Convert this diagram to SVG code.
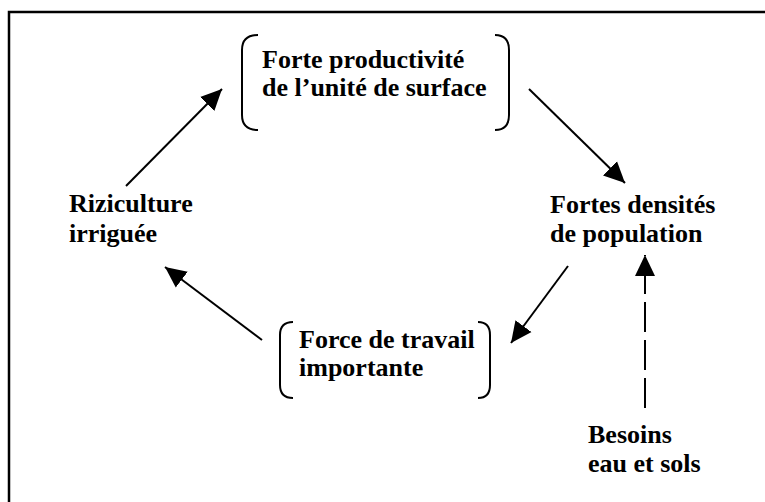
<svg xmlns="http://www.w3.org/2000/svg" width="765" height="502" viewBox="0 0 765 502">
<defs>
<marker id="ah" markerUnits="userSpaceOnUse" markerWidth="22" markerHeight="22" viewBox="0 0 22 22" refX="21" refY="11" orient="auto">
<path d="M0,1 L21,11 L0,21 Z" fill="#000"/>
</marker>
<style>
.t{font-family:"Liberation Serif","Times New Roman",serif;font-weight:bold;font-size:26px;fill:#000}
.br{fill:none;stroke:#000;stroke-width:2}
.c{fill:none;stroke:#000;stroke-width:2}
</style>
</defs>
<rect width="765" height="502" fill="#fff"/>
<path d="M9,520 L9,12 L780,12" fill="none" stroke="#000" stroke-width="2.5"/>
<g id="connectors">
<line class="c" x1="126" y1="186" x2="222" y2="89" marker-end="url(#ah)"/>
<line class="c" x1="529" y1="89" x2="625" y2="183" marker-end="url(#ah)"/>
<line class="c" x1="568" y1="266" x2="511" y2="343" marker-end="url(#ah)"/>
<line class="c" x1="262" y1="340" x2="165" y2="267" marker-end="url(#ah)"/>
<line class="c" x1="645" y1="408" x2="645" y2="255" stroke-dasharray="30 8" marker-end="url(#ah)"/>
</g>
<g id="n-productivite">
<path class="br" d="M258,35 Q242,35 242,50 L242,115 Q242,130 258,130"/>
<path class="br" d="M495,35 Q509,35 509,50 L509,115 Q509,130 495,130"/>
<text class="t" x="262" y="68">Forte productivité</text>
<text class="t" x="262" y="96">de l’unité de surface</text>
</g>
<g id="n-densites">
<text class="t" x="550" y="213">Fortes densités</text>
<text class="t" x="550" y="242">de population</text>
</g>
<g id="n-force">
<path class="br" d="M293,322 Q280,322 280,335 L280,385 Q280,398 293,398"/>
<path class="br" d="M478,322 Q490,322 490,335 L490,385 Q490,398 478,398"/>
<text class="t" x="299" y="348">Force de travail</text>
<text class="t" x="299" y="376">importante</text>
</g>
<g id="n-riziculture">
<text class="t" x="69" y="212">Riziculture</text>
<text class="t" x="69" y="242">irriguée</text>
</g>
<g id="n-besoins">
<text class="t" x="588" y="443">Besoins</text>
<text class="t" x="588" y="472">eau et sols</text>
</g>
</svg>
